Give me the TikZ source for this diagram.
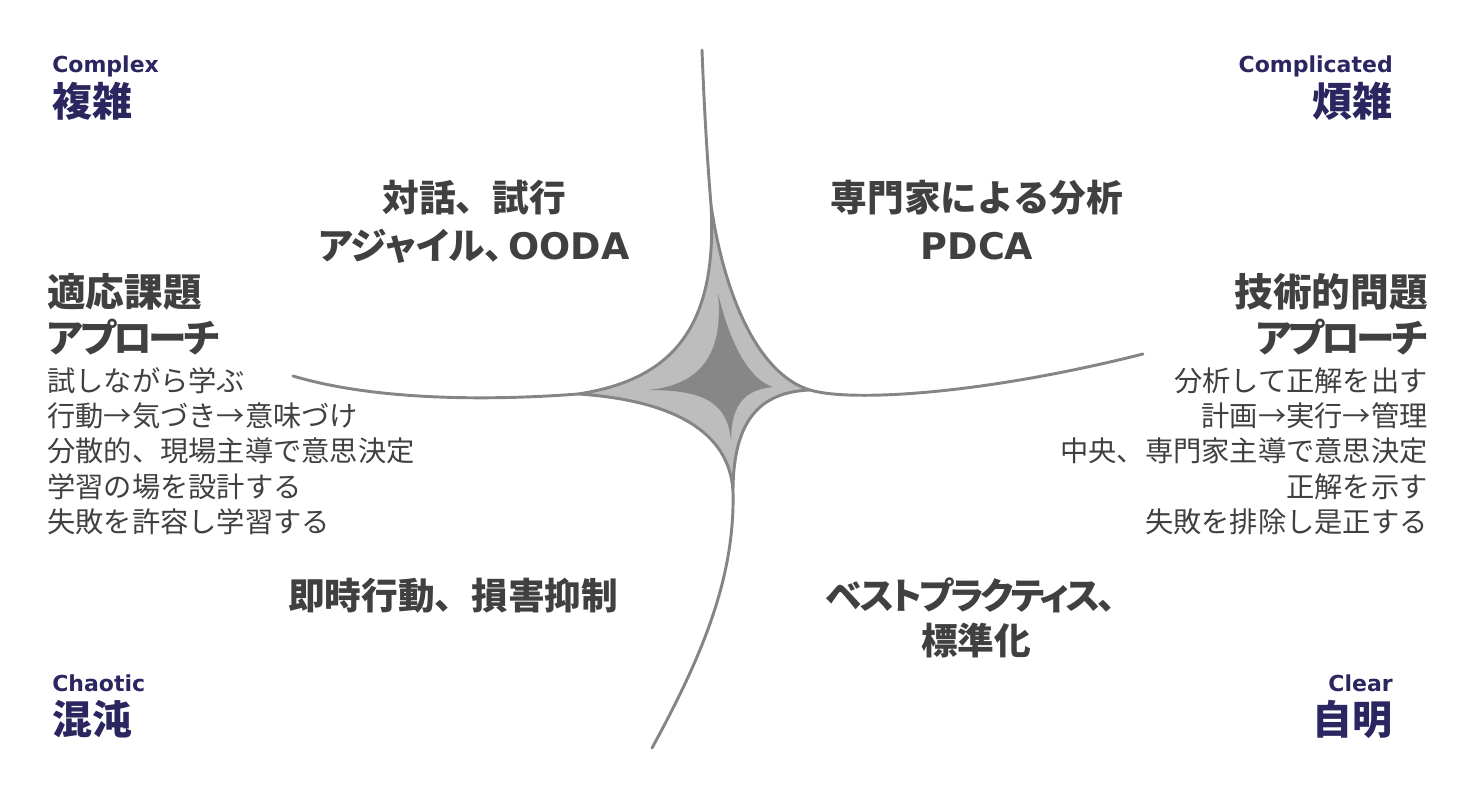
\documentclass[tikz,border=0pt]{standalone}
\usepackage{fontspec}
\setmainfont{Noto Sans CJK JP}
\newfontfamily\latinfont{DejaVu Sans}
\newfontfamily\kanafont{Noto Sans CJK JP}[RawFeature=+palt]
\newfontfamily\kanatight{Noto Sans CJK JP}[RawFeature=+palt, LetterSpace=-8]
\definecolor{navy}{HTML}{2B2560}
\definecolor{textgray}{HTML}{404040}
\definecolor{linegray}{HTML}{858585}
\definecolor{starlight}{HTML}{BDBDBD}
\definecolor{stardark}{HTML}{878787}

\begin{document}
\begin{tikzpicture}[x=0.75pt, y=-0.75pt,
		domainEn/.style = {font=\latinfont\bfseries\fontsize{16.5}{19}\selectfont, text=navy, inner sep=0pt},
		domainJa/.style = {font=\bfseries\fontsize{30}{34}\selectfont, text=navy, inner sep=0pt},
		bigtext/.style = {font=\bfseries\fontsize{27.5}{34}\selectfont, text=textgray, inner sep=0pt},
		headtext/.style = {bigtext, font=\bfseries\fontsize{29}{34}\selectfont},
		smalltext/.style = {font=\fontsize{21.2}{26}\selectfont, text=textgray, inner sep=0pt},
		border/.style = {draw=linegray, line width=2.2pt, line cap=round, line join=round}]
	\useasboundingbox (0,0) rectangle (1462,792);

	% tips of the star
	\coordinate (T) at (711,205);
	\coordinate (L) at (578,394);
	\coordinate (R) at (810,390);
	\coordinate (B) at (733,492);

	\filldraw [border, fill=starlight] (T) .. controls (718,330) and (670,380) .. (L)
		.. controls (670,400) and (730,430) .. (B)
		.. controls (733,420) and (760,392) .. (R)
		.. controls (760,375) and (725,300) .. (T) -- cycle;
	\fill [stardark] (718,293) .. controls (724,355) and (700,385) .. (648,390)
		.. controls (700,390) and (728,400) .. (731,442)
		.. controls (731,410) and (740,390) .. (773,387)
		.. controls (750,380) and (730,345) .. (718,293) -- cycle;

	% boundary lines
	\coordinate (topEnd) at (702,50);
	\coordinate (leftEnd) at (293,376);
	\coordinate (rightEnd) at (1143,354);
	\coordinate (bottomEnd) at (652,748);
	\draw [border] (topEnd) .. controls (705,130) and (709,180) .. (T);
	\draw [border] (L) .. controls (500,400) and (380,402) .. (leftEnd);
	\draw [border] (R) .. controls (850,402) and (980,395) .. (rightEnd);
	\draw [border] (B) .. controls (735,580) and (700,660) .. (bottomEnd);

	% domain names
	\node [domainEn, anchor=base west] (complexEn) at (52,73) {Complex};
	\node [domainJa, anchor=base west] (complexJa) at (52,116) {複雑};
	\node [domainEn, anchor=base east] (complicatedEn) at (1393,73) {Complicated};
	\node [domainJa, anchor=base east] (complicatedJa) at (1393,116) {煩雑};
	\node [domainEn, anchor=base west] (chaoticEn) at (52,691) {Chaotic};
	\node [domainJa, anchor=base west] (chaoticJa) at (52,734) {混沌};
	\node [domainEn, anchor=base east] (clearEn) at (1393,691) {Clear};
	\node [domainJa, anchor=base east] (clearJa) at (1393,734) {自明};

	% practices
	\node [bigtext, anchor=base] (complexPr1) at (474,211) {対話、試行};
	\node [bigtext, anchor=base] (complexPr2) at (474,259) {{\kanafont アジャイル、}\hspace{4pt}{\latinfont OODA}};
	\node [bigtext, anchor=base] (complicatedPr1) at (977,211) {専門家による分析};
	\node [bigtext, anchor=base] (complicatedPr2) at (977,259) {\latinfont PDCA};
	\node [bigtext, anchor=base] (chaoticPr) at (453,609) {即時行動、損害抑制};
	\node [bigtext, anchor=base] (clearPr1) at (971,609) {\kanatight ベストプラクティス、};
	\node [bigtext, anchor=base] (clearPr2) at (976,654) {標準化};

	% approaches
	\node [headtext, anchor=base west] (adaptHead1) at (47,306) {適応課題};
	\node [headtext, anchor=base west] (adaptHead2) at (47,352) {\kanatight アプローチ};
	\node [headtext, anchor=base east] (techHead1) at (1428,306) {技術的問題};
	\node [headtext, anchor=base east] (techHead2) at (1428,352) {\kanatight アプローチ};
	\foreach \txt [count=\i] in {試しながら学ぶ, 行動→気づき→意味づけ, 分散的、現場主導で意思決定, 学習の場を設計する, 失敗を許容し学習する}
		\node [smalltext, anchor=base west] (adaptLine\i) at (47,356+35.25*\i) {\txt};
	\foreach \txt [count=\i] in {分析して正解を出す, 計画→実行→管理, 中央、専門家主導で意思決定, 正解を示す, 失敗を排除し是正する}
		\node [smalltext, anchor=base east] (techLine\i) at (1428,356+35.25*\i) {\txt};
\end{tikzpicture}
\end{document}
